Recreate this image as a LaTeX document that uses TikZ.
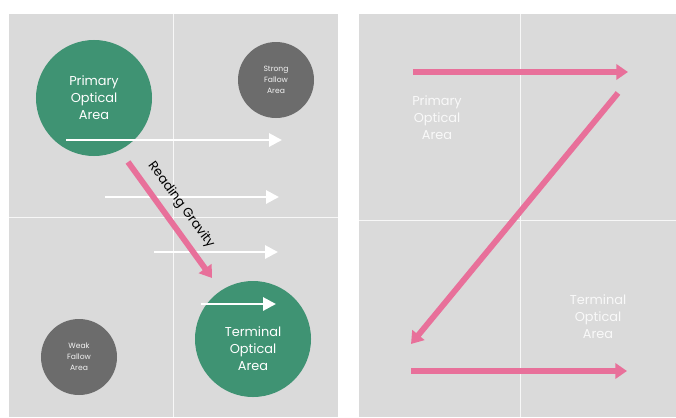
\documentclass[tikz,border=0pt]{standalone}
\usepackage{fontspec}
\setmainfont{Poppins}
\usetikzlibrary{arrows.meta}

\definecolor{panelgray}{HTML}{DADADA}
\definecolor{areagreen}{HTML}{3F9373}
\definecolor{fallowgray}{HTML}{6C6C6C}
\definecolor{zpink}{HTML}{E8709A}

\begin{document}
\begin{tikzpicture}[x=0.03cm,y=-0.03cm,
    area/.style={circle,fill=areagreen,text=white,inner sep=0pt,minimum size=3.48cm,
        align=center,font=\fontsize{11}{14.5}\selectfont},
    fallow/.style={circle,fill=fallowgray,text=white!90!gray,inner sep=0pt,minimum size=2.28cm,
        align=center,font=\fontsize{6.5}{9.4}\selectfont},
    plain/.style={text=white!95!gray,align=center,font=\fontsize{11}{14.5}\selectfont},
    flow/.style={white,line width=2.5pt,-{Triangle[length=11pt,width=11pt]}},
    zline/.style={zpink,line width=5pt,-{Triangle[length=10pt,width=13pt]}}]
        \useasboundingbox (0,0) rectangle (676,417);
        \fill[white] (0,0) rectangle (676,417);

        % left panel
        \fill[panelgray] (9,14) rectangle (338,417);
        \draw[white!94!gray,line width=0.8pt] (173,14) -- (173,417);
        \draw[white!94!gray,line width=0.8pt] (9,217) -- (338,217);

        \node[area] (primary) at (94,98) {Primary\\Optical\\Area};
        \node[fallow] (strong) at (276,80) {Strong\\Fallow\\Area};
        \node[fallow] (weak) at (79,357) {Weak\\Fallow\\Area};
        \node[area] (terminal) at (253,339) {};
        \node[plain,text=white] (terminaltext) at ([yshift=-8.5pt]terminal.center) {Terminal\\Optical\\Area};

        \coordinate (f1s) at (66,140);  \coordinate (f1e) at (282,140);
        \coordinate (f2s) at (105,197); \coordinate (f2e) at (279,197);
        \coordinate (f3s) at (154,252); \coordinate (f3e) at (278,252);
        \coordinate (f4s) at (201,304); \coordinate (f4e) at (276,304);
        \draw[flow] (f1s) -- (f1e);
        \draw[flow] (f2s) -- (f2e);
        \draw[flow] (f3s) -- (f3e);
        \draw[flow] (f4s) -- (f4e);

        \coordinate (gs) at (128,162); \coordinate (ge) at (212,278);
        \draw[zline] (gs) -- (ge);
        \node[rotate=-53.5,font=\fontsize{11}{12}\selectfont] (gravity) at (181,205) {Reading Gravity};

        % right panel
        \fill[panelgray] (359,14) rectangle (676,417);
        \draw[white!94!gray,line width=0.8pt] (520,14) -- (520,417);
        \draw[white!94!gray,line width=0.8pt] (359,220) -- (676,220);

        \node[plain] (zprimary) at (437,118) {Primary\\Optical\\Area};
        \node[plain] (zterminal) at (598,317) {Terminal\\Optical\\Area};

        \coordinate (z1) at (413,72);  \coordinate (z2) at (628,72);
        \coordinate (z3) at (618,93);  \coordinate (z4) at (411,344);
        \coordinate (z5) at (411,371); \coordinate (z6) at (627,371);
        \draw[zline] (z1) -- (z2);
        \draw[zline] (z3) -- (z4);
        \draw[zline] (z5) -- (z6);
\end{tikzpicture}
\end{document}
